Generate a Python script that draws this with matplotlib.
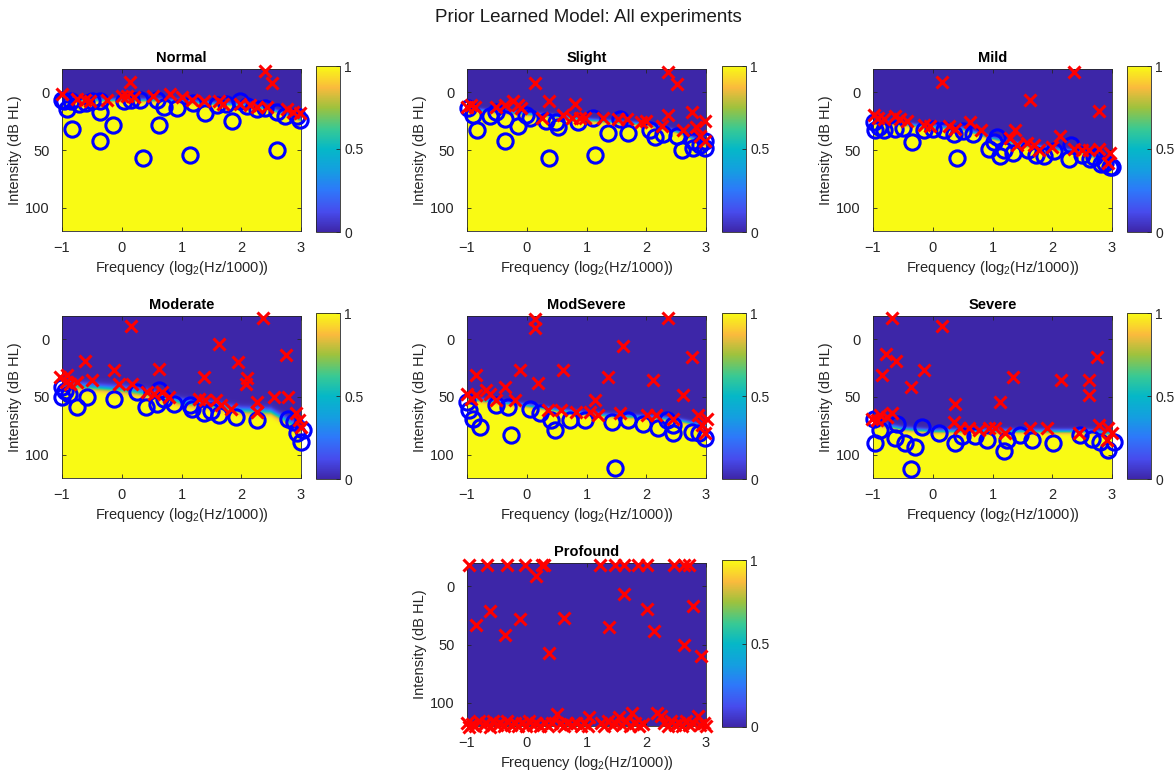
import numpy as np
import matplotlib
matplotlib.use('Agg')
import matplotlib.pyplot as plt
from matplotlib.colors import LinearSegmentedColormap

plt.rcParams['font.family'] = ['Liberation Sans', 'DejaVu Sans']
plt.rcParams['mathtext.fontset'] = 'custom'
plt.rcParams['mathtext.rm'] = 'Liberation Sans'
plt.rcParams['mathtext.default'] = 'regular'

# threshold of the learned model (dB HL) at these frequencies
thr_f = [-1, -0.5, 0, 0.5, 1, 1.5, 2, 2.5, 3]

# ---- Normal
normal_thr = [6, 7, 7, 7, 8, 10, 11, 15, 24]
normal_hit_f = [-1.0, -0.97, -0.92, -0.85, -0.83, -0.72, -0.6, -0.5, -0.36, -0.36, -0.36, -0.14, 0.03, 0.15,
                0.31, 0.36, 0.59, 0.62, 0.70, 0.92, 1.14, 1.2, 1.40, 1.59, 1.75, 1.84, 1.98, 2.1, 2.26, 2.4,
                2.59, 2.59, 2.73, 2.93, 2.98]
normal_hit_db = [7, 8, 15, 8, 32, 10, 9, 8, 8, 17, 42, 28, 8, 7,
                 7, 57, 7, 28, 12.5, 14, 54, 9, 18, 11, 10, 25, 8, 12, 15, 14,
                 50, 17, 21, 21, 24]
normal_miss_f = [-1.0, -0.75, -0.61, -0.53, -0.25, 0.0, 0.09, 0.14, 0.2, 0.53, 0.81, 1.0, 1.17, 1.37, 1.62,
                 1.70, 1.98, 2.15, 2.26, 2.40, 2.43, 2.51, 2.76, 2.87, 2.98]
normal_miss_db = [2, 5.5, 7, 8, 7, 3, 3, -9, 4, 3, 1.5, 4, 7, 8, 8,
                  10, 10, 11, 12.5, -18, 13, -8, 15, 17, 18]

# ---- Slight
slight_thr = [15, 17, 19, 21, 24, 26, 28, 34, 45]
slight_hit_f = [-0.98, -0.9, -0.84, -0.62, -0.51, -0.37, -0.37, -0.15, -0.01, 0.05, 0.33, 0.38, 0.49, 0.52,
                0.86, 1.11, 1.14, 1.36, 1.56, 1.70, 2.06, 2.14, 2.28, 2.51, 2.6, 2.79, 2.79, 2.9, 2.98, 2.98]
slight_hit_db = [14, 19.5, 33, 21, 17, 23.6, 42, 29, 19.5, 22, 25, 57, 26, 30.5,
                 26, 22, 54, 35, 23.6, 35, 33, 39, 36, 37.5, 50, 42, 48.6, 46, 42, 48.6]
slight_miss_f = [-1.0, -0.93, -0.87, -0.51, -0.37, -0.23, -0.15, -0.09, 0.13, 0.25, 0.38, 0.61, 0.75, 0.80,
                 0.89, 0.97, 1.28, 1.53, 1.67, 1.92, 2.0, 2.26, 2.37, 2.37, 2.51, 2.62, 2.76, 2.84, 2.9,
                 2.98, 2.98]
slight_miss_db = [12.5, 11, 12.5, 12.5, 11, 8, 11, 14, -8, 22, 8, 19.5, 22, 10.5,
                  22, 22, 22, 23.6, 23.6, 26, 25, 29, -17, 19.5, -7, 33, 17, 30.5, 37.5,
                  25, 42]

# ---- Mild
mild_thr = [26, 28, 30, 32, 40, 46, 49, 52, 62]
mild_hit_f = [-0.99, -0.96, -0.9, -0.82, -0.63, -0.5, -0.35, -0.15, 0.0, 0.18, 0.35, 0.41, 0.5, 0.68, 0.94,
              1.02, 1.08, 1.13, 1.2, 1.35, 1.6, 1.72, 1.86, 2.03, 2.28, 2.31, 2.5, 2.64, 2.7, 2.81, 2.89,
              2.97, 3.0]
mild_hit_db = [26, 33, 30, 33, 32, 31, 43, 33, 32, 33, 36, 57, 34, 36, 49,
               43, 39, 55.5, 50, 53, 50, 54, 55.5, 51, 58, 46, 54, 58, 56, 62.5, 61,
               65, 65]
mild_miss_f = [-0.99, -0.91, -0.82, -0.63, -0.54, -0.43, -0.15, -0.04, 0.15, 0.27, 0.38, 0.63, 0.8, 1.30,
               1.38, 1.41, 1.58, 1.62, 1.69, 1.77, 2.0, 2.13, 2.36, 2.36, 2.5, 2.61, 2.78, 2.78, 2.94, 2.97]
mild_miss_db = [19.5, 22, 23.6, 21, 23.6, 25, 28, 29, -9, 29, 32, 26, 33, 40,
                33, 46, 44, 7, 46, 50, 47, 37.5, -17, 49, 50, 50, 16, 49, 61, 53]

# ---- Moderate
mod_thr = [40, 42, 44, 48, 55, 58, 62, 63, 78]
mod_hit_f = [-1.0, -1.0, -0.95, -0.89, -0.75, -0.58, -0.13, 0.26, 0.40, 0.59, 0.62, 0.7, 0.87, 1.15, 1.18,
             1.38, 1.5, 1.63, 1.91, 2.27, 2.78, 2.89, 2.94, 3.0, 3.03]
mod_hit_db = [41, 50, 45, 47, 58.6, 50, 51.4, 45.7, 58.6, 55.7, 44, 52, 55.7, 57, 60,
              64, 62, 65.7, 67, 70, 68.6, 71.4, 81, 88.6, 78.6]
mod_miss_f = [-1.03, -0.94, -0.92, -0.86, -0.75, -0.61, -0.5, -0.13, -0.05, 0.15, 0.17, 0.43, 0.54, 0.62,
              0.68, 0.79, 1.29, 1.38, 1.40, 1.57, 1.63, 1.66, 1.83, 1.94, 2.08, 2.1, 2.27, 2.27, 2.36,
              2.55, 2.75, 2.78, 2.92, 2.97, 3.0]
mod_miss_db = [33, 37, 31, 38.6, 37, 18.6, 35.7, 27, 38.6, -11.4, 38.6, 45.7, 47, 26,
               45.7, 50, 51.4, 33, 52.9, 52.9, 4.3, 57, 60, 20, 38.6, 34, 54, 63, -18.6,
               50, 14, 50, 64, 70, 75.7]

# ---- ModSevere
ms_thr = [52, 55, 58, 62, 65, 67, 68, 70, 76]
ms_hit_f = [-1.0, -0.96, -0.9, -0.79, -0.51, -0.31, -0.26, 0.05, 0.22, 0.41, 0.47, 0.72, 0.97, 1.42, 1.48,
            1.70, 1.95, 2.2, 2.34, 2.45, 2.45, 2.76, 2.89, 2.98]
ms_hit_db = [54, 61, 68.6, 75.7, 57, 58.6, 83, 60, 64, 70, 78.6, 70, 70, 71.4, 111,
             70, 73, 77, 70, 74, 81, 80, 81, 85.7]
ms_miss_f = [-1.0, -0.93, -0.85, -0.85, -0.68, -0.62, -0.51, -0.37, -0.2, -0.12, 0.13, 0.13, 0.19, 0.36,
             0.58, 0.61, 0.83, 1.06, 1.14, 1.2, 1.36, 1.56, 1.61, 2.01, 2.12, 2.17, 2.37, 2.45, 2.61,
             2.76, 2.87, 2.93, 2.98, 3.01]
ms_miss_db = [47, 51.4, 48.6, 31.4, 44, 47, 52.9, 41.4, 52.9, 27, -17, -10, 38, 61,
              61, 26.6, 63, 63, 52.9, 65.7, 33, 64, 5.7, 65.7, 35.7, 65.7, -18.6, 68.6, 48.6,
              15.7, 65.7, 74, 81, 68.6]

# ---- Severe
sev_thr = [73, 78, 80, 80, 80, 80, 80, 80, 82]
sev_hit_f = [-0.99, -0.96, -0.88, -0.63, -0.6, -0.46, -0.36, -0.29, -0.18, 0.1, 0.38, 0.49, 0.71, 0.91,
             1.19, 1.24, 1.46, 1.66, 2.02, 2.47, 2.66, 2.8, 2.94, 3.03]
sev_hit_db = [68.6, 90, 78.6, 85.7, 73, 90, 112, 93, 75.7, 81, 90, 84, 84, 87,
              97, 87, 83, 87, 90, 83, 86, 88.6, 96, 88.6]
sev_miss_f = [-1.02, -0.93, -0.88, -0.85, -0.79, -0.77, -0.69, -0.68, -0.61, -0.36, -0.14, 0.15, 0.35,
              0.38, 0.46, 0.6, 0.77, 0.94, 1.05, 1.13, 1.21, 1.34, 1.63, 1.91, 2.14, 2.44, 2.61, 2.61,
              2.75, 2.78, 2.92, 2.94, 3.0]
sev_miss_db = [68.6, 70, 65.7, 31.4, 12.9, 67, -18.6, 64, 18.6, 41.4, 26.6, -11.4, 71.4,
               56, 77, 77, 78.6, 77, 77, 54, 81, 33, 77, 77, 35.7, 81, 35.7, 48.6,
               15, 74, 87, 77, 81]

# ---- Profound (nothing heard)
prof_thr = [200, 200, 200, 200, 200, 200, 200, 200, 200]
prof_hit_f = []
prof_hit_db = []
prof_miss_f = [-0.96, -0.66, -0.33, -0.03, 0.25, 0.29, 1.23, 1.48, 1.62, 1.87, 2.01, 2.46, 2.63, 2.71,
               -0.85, -0.62, -0.37, -0.12, 0.16, 0.38, 0.62, 1.38, 1.62, 2.01, 2.13, 2.78, 2.63, 2.92,
               -1.0, -0.97, -0.92, -0.86, -0.8, -0.74, -0.68, -0.62, -0.57, -0.5, -0.45, -0.38, -0.33,
               -0.27, -0.2, -0.15, -0.08, -0.02, 0.04, 0.1, 0.16, 0.22, 0.3, 0.36, 0.42, 0.5, 0.55, 0.62,
               0.68, 0.75, 0.82, 0.9, 0.96, 1.05, 1.02, 1.25, 1.3, 1.36, 1.42, 1.48, 1.55, 1.6, 1.66,
               1.72, 1.76, 1.82, 1.88, 1.95, 2.18, 2.25, 2.3, 2.36, 2.42, 2.48, 2.55, 2.6, 2.66, 2.72,
               2.78, 2.86, 2.9, 2.96, 3.0]
prof_miss_db = [-18, -18, -18, -18, -18, -18, -18, -18, -18, -18, -18, -18, -18, -18,
                33, 21, 42, 28, -8.5, 57.7, 27, 35, 7, 19.7, 38, 17, 50.7, 60,
                117, 121, 118, 120, 116, 119, 117, 121, 116, 119, 117, 120, 116,
                119, 117, 120, 117, 120, 116, 119, 117, 120, 117, 120, 117, 110, 118, 120,
                117, 119, 117, 120, 117, 112, 120, 117, 120, 116, 119, 117, 112, 119, 116,
                120, 109, 117, 120, 118, 109, 111, 117, 120, 116, 119, 117, 120, 116, 119,
                117, 111, 119, 117, 120]

titles = ['Normal', 'Slight', 'Mild', 'Moderate', 'ModSevere', 'Severe', 'Profound']
thresholds = [normal_thr, slight_thr, mild_thr, mod_thr, ms_thr, sev_thr, prof_thr]
widths = [0.8, 0.8, 0.8, 1.6, 0.9, 1.0, 1.0]
hits = [(normal_hit_f, normal_hit_db), (slight_hit_f, slight_hit_db), (mild_hit_f, mild_hit_db),
        (mod_hit_f, mod_hit_db), (ms_hit_f, ms_hit_db), (sev_hit_f, sev_hit_db), (prof_hit_f, prof_hit_db)]
misses = [(normal_miss_f, normal_miss_db), (slight_miss_f, slight_miss_db), (mild_miss_f, mild_miss_db),
          (mod_miss_f, mod_miss_db), (ms_miss_f, ms_miss_db), (sev_miss_f, sev_miss_db),
          (prof_miss_f, prof_miss_db)]

# parula-like colormap
parula = LinearSegmentedColormap.from_list('parula', [
    (0.00, (0.2422, 0.1504, 0.6603)),
    (0.12, (0.2780, 0.2950, 0.9300)),
    (0.25, (0.1800, 0.4700, 0.9800)),
    (0.37, (0.0800, 0.6200, 0.8800)),
    (0.50, (0.0200, 0.7200, 0.7800)),
    (0.62, (0.2200, 0.7900, 0.5800)),
    (0.75, (0.6200, 0.7600, 0.2400)),
    (0.87, (0.9800, 0.7300, 0.2400)),
    (1.00, (0.9769, 0.9839, 0.0805))], N=256)

W, H = 1176, 782
cols = [(62, 301, 316, 340), (467, 706, 722, 746), (873, 1112, 1127, 1151)]
rows = [(69, 231), (316, 478), (563, 726)]
slots = [(0, 0), (1, 0), (2, 0), (0, 1), (1, 1), (2, 1), (1, 2)]


def rect(l, t, r, b):
    return [l / W, 1 - b / H, (r - l) / W, (b - t) / H]


fig = plt.figure(figsize=(W / 100, H / 100), dpi=100)
fig.suptitle('Prior Learned Model: All experiments', fontsize=13.5, y=1 - 17 / H, va='center',
             color='0.1')

fg = np.linspace(-1, 3, 500)
dg = np.linspace(-20, 120, 500)
F, D = np.meshgrid(fg, dg)

for i in range(7):
    c, r = slots[i]
    x0, x1, cx0, cx1 = cols[c]
    y0, y1 = rows[r]
    ax = fig.add_axes(rect(x0, y0, x1, y1))
    cax = fig.add_axes(rect(cx0, y0 - 3, cx1, y1 + 1))

    thr = np.interp(F, thr_f, thresholds[i])
    P = 1 / (1 + np.exp(-np.clip((D - thr) / widths[i], -50, 50)))
    im = ax.imshow(P, extent=(-1, 3, 120, -20), origin='upper', aspect='auto', cmap=parula,
                   vmin=0, vmax=1, interpolation='bilinear')

    hf, hd = hits[i]
    mf, md = misses[i]
    ax.plot(hf, hd, 'o', mfc='none', mec='#0000ff', ms=11, mew=2.2, clip_on=False, zorder=3)
    ax.plot(mf, md, 'x', color='#ff0000', ms=8, mew=2.2, clip_on=False, zorder=4)

    ax.set_xlim(-1, 3)
    ax.set_ylim(120, -20)
    ax.set_xticks([-1, 0, 1, 2, 3])
    ax.set_yticks([0, 50, 100])
    ax.tick_params(direction='in', length=3, width=0.6, colors='0.15', labelsize=10.5,
                   top=True, right=True)
    ax.tick_params(axis='x', pad=7)
    ax.tick_params(axis='y', pad=9)
    for s in ax.spines.values():
        s.set_linewidth(0.6)
        s.set_color('0.15')
    ax.set_title(titles[i], fontweight='bold', fontsize=10.5, pad=5)
    ax.set_xlabel('Frequency (log$_2$(Hz/1000))', fontsize=10.5, color='0.15', labelpad=3)
    ax.set_ylabel('Intensity (dB HL)', fontsize=10.5, color='0.15', labelpad=2)

    cb = fig.colorbar(im, cax=cax, ticks=[0, 0.5, 1])
    cb.ax.set_yticklabels(['0', '0.5', '1'])
    cb.ax.tick_params(direction='in', length=3, width=0.6, colors='0.15', labelsize=10, pad=3)
    cb.outline.set_linewidth(0.6)
    cb.outline.set_edgecolor('0.15')

fig.savefig('out.png', dpi=100)
